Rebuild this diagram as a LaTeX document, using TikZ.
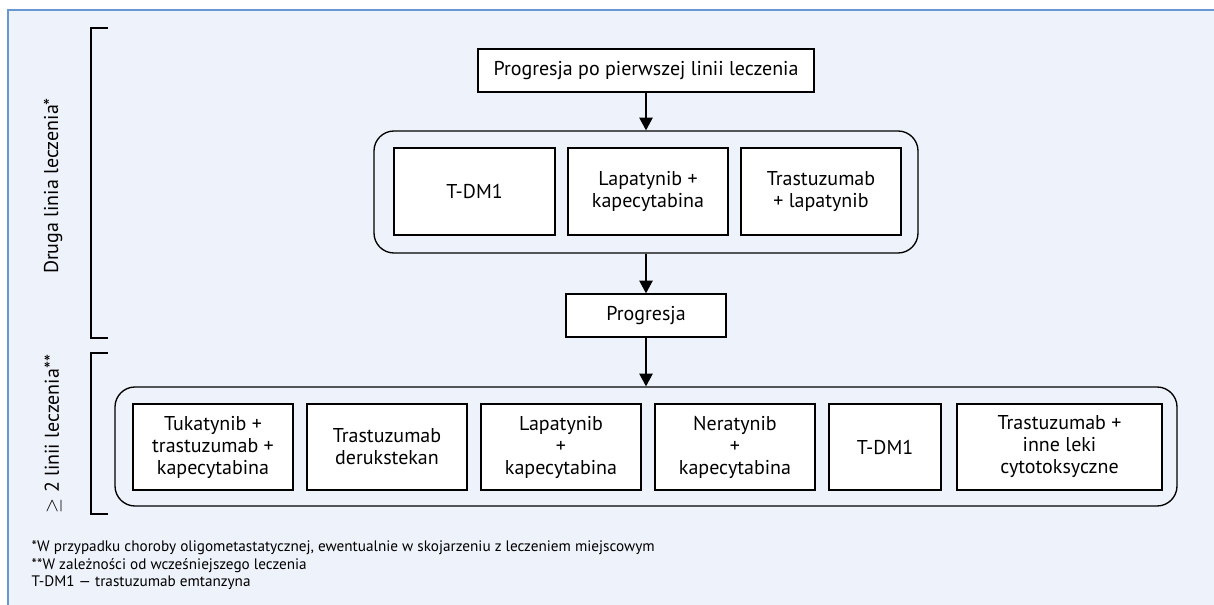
\documentclass[tikz,border=0pt]{standalone}
\usepackage{fontspec}
\setmainfont{PT Sans}
\usetikzlibrary{arrows.meta}
\definecolor{panelbg}{RGB}{238,242,250}
\definecolor{panelline}{RGB}{104,152,212}
\begin{document}
\begin{tikzpicture}[x=0.75pt,y=-0.75pt,
  every node/.style={font=\fontsize{15}{16.5}\selectfont},
  sz/.style 2 args={minimum width=#1*0.75pt,minimum height=#2*0.75pt},
  box/.style={draw=black,line width=1pt,fill=white,inner sep=0pt,align=center},
  group/.style={draw=black,line width=1pt,rounded corners=15pt,inner sep=0pt},
  arr/.style={line width=1pt,-{Triangle[length=9.5pt,width=10pt]}},
  brace/.style={line width=1pt},
  side/.style={rotate=90,anchor=center},
  note/.style={anchor=base west,font=\fontsize{11.4}{13}\selectfont}]
\useasboundingbox (0,0) rectangle (1214,605);
% page and panel
\fill[white] (0,0) rectangle (1214,605);
\fill[panelbg] (8,10) rectangle (1214,605);
\draw[panelline,line width=1.6pt] (8,605) -- (8,10) -- (1214,10);

% side brackets and their labels
\draw[brace] (108,28) -- (91,28) -- (91,338) -- (108,338);
\draw[brace] (108,353) -- (91,353) -- (91,514) -- (108,514);
\node[side] (lab1) at (53,186) {Druga linia leczenia*};
\node[side] (lab2) at (53,434) {$\geq$ 2 linii leczenia**};

% second line of treatment
\node[box,sz={336}{43}] (start) at (646,70.5) {Progresja po pierwszej linii leczenia};
\node[group,sz={544}{122}] (g1) at (646,192) {};
\node[box,sz={161}{87}] (a1) at (474.5,191.5) {T-DM1};
\node[box,sz={160}{87}] (a2) at (648,191.5) {Lapatynib +\\kapecytabina};
\node[box,sz={160}{87}] (a3) at (821,191.5) {Trastuzumab\\+ lapatynib};
\node[box,sz={160}{43}] (prog) at (646,315.5) {Progresja};

% further lines of treatment
\node[group,sz={1062}{119}] (g2) at (646,446.5) {};
\node[box,sz={160}{86}] (b1) at (213,447) {Tukatynib +\\trastuzumab +\\kapecytabina};
\node[box,sz={160}{86}] (b2) at (387,447) {Trastuzumab\\derukstekan};
\node[box,sz={160}{86}] (b3) at (561,447) {Lapatynib\\+\\kapecytabina};
\node[box,sz={160}{86}] (b4) at (735,447) {Neratynib\\+\\kapecytabina};
\node[box,sz={112}{86}] (b5) at (885,447) {T-DM1};
\node[box,sz={205}{86}] (b6) at (1059.5,447) {Trastuzumab +\\inne leki\\cytotoksyczne};

\draw[arr] (start.south) -- (g1.north);
\draw[arr] (g1.south) -- (prog.north);
\draw[arr] (prog.south) -- (g2.north);

% footnotes
\node[note] (n1) at (27,552) {*W przypadku choroby oligometastatycznej, ewentualnie w skojarzeniu z leczeniem miejscowym};
\node[note] (n2) at (27,569.5) {**W zależności od wcześniejszego leczenia};
\node[note] (n3) at (27,587) {T-DM1 — trastuzumab emtanzyna};
\end{tikzpicture}
\end{document}
